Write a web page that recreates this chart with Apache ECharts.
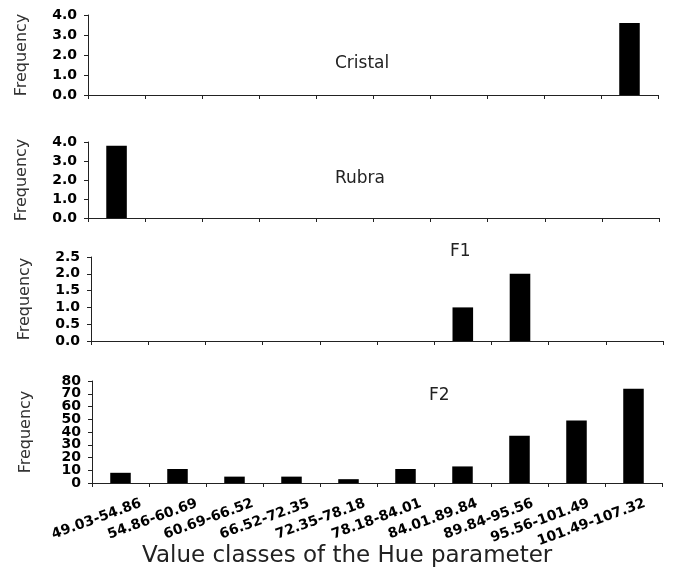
<!DOCTYPE html>
<html>
<head>
<meta charset="utf-8">
<script src="https://cdn.jsdelivr.net/npm/echarts@6/dist/echarts.min.js"></script>
<style>
html,body{margin:0;padding:0;background:#fff;}
#c{width:673px;height:576px;}
</style>
</head>
<body>
<div id="c"></div>
<script>
const categories = ['49.03-54.86','54.86-60.69','60.69-66.52','66.52-72.35','72.35-78.18','78.18-84.01','84.01.89.84','89.84-95.56','95.56-101.49','101.49-107.32'];
const cristal = [0,0,0,0,0,0,0,0,0,3.6];
const rubra   = [3.8,0,0,0,0,0,0,0,0,0];
const f1      = [0,0,0,0,0,0,1,2,0,0];
const f2      = [8,11,5,5,3,11,13,37,49,74];
const panelNames = ['Cristal','Rubra','F1','F2'];
const yMax = [4,4,2.5,80];
const yInterval = [1,1,0.5,10];
const f2TicksEven = [0,20,40,60,80];
const f2TicksOdd = [10,30,50,70];
const xTitle = 'Value classes of the Hue parameter';
const yName = 'Frequency';

const FONT = 'DejaVu Sans';
const grids = [
  {left:88, width:570, top:15, height:80},
  {left:88, width:571, top:142, height:76},
  {left:91, width:572, top:257, height:84},
  {left:92, width:570, top:381, height:102},
  {left:113, width:570, top:381, height:102}
];
const seriesData = [cristal, rubra, f1, f2];
const titlePos = [[330,50],[330,165],[445,238],[424,382]];
const labelStyle = {fontFamily:FONT, fontWeight:'bold', fontSize:14, color:'#000', margin:11,
  showMinLabel:true, showMaxLabel:true, hideOverlap:false};

const xAxes = [], yAxes = [], series = [];
for (let i=0;i<4;i++){
  xAxes.push({
    type:'category', gridIndex:i, data:categories,
    axisLine:{show:true, lineStyle:{color:'#222', width:1}},
    axisTick:{show:true, interval:0, length:4, lineStyle:{color:'#222'}},
    axisLabel:{show:false, interval:0}
  });
  const lab = Object.assign({}, labelStyle, {
    formatter: (v)=> i<3 ? Number(v).toFixed(1) : String(v)
  });
  if (i===3) lab.customValues = f2TicksEven;
  yAxes.push({
    type:'value', gridIndex:i, position:'left', offset:0,
    min:0, max:yMax[i], interval:yInterval[i],
    name:yName, nameLocation:'middle', nameGap:58,
    nameTextStyle:{fontFamily:FONT, fontSize:16, color:'#333'},
    splitLine:{show:false},
    axisLine:{show:true, lineStyle:{color:'#222', width:1}},
    axisTick:{show:true, length:4, lineStyle:{color:'#222'}},
    axisLabel:lab
  });
  series.push({
    type:'bar', xAxisIndex:i, yAxisIndex:i, data:seriesData[i],
    barWidth:'36%', itemStyle:{color:'#000'}, silent:true
  });
}
xAxes.push({
  type:'category', gridIndex:4, data:categories,
  axisLine:{show:false}, axisTick:{show:false},
  axisLabel:{interval:0, rotate:20, margin:20, fontFamily:FONT, fontWeight:'bold', fontSize:14, color:'#000'}
});
yAxes.push({type:'value', gridIndex:4, show:false, min:0, max:1});
// second label-only axis for F2 odd tick labels
yAxes.push({
  type:'value', gridIndex:3, position:'left', offset:0,
  min:0, max:yMax[3], interval:yInterval[3],
  splitLine:{show:false}, axisLine:{show:false}, axisTick:{show:false},
  axisLabel:Object.assign({}, labelStyle, {customValues:f2TicksOdd, formatter:(v)=>String(v)})
});

const titles = panelNames.map((t,i)=>({
  text:t, left:titlePos[i][0], top:titlePos[i][1],
  textStyle:{fontFamily:FONT, fontSize:17, fontWeight:'normal', color:'#222'}
}));
titles.push({text:xTitle, left:137, top:540,
  textStyle:{fontFamily:FONT, fontSize:23, fontWeight:'normal', color:'#222'}});

const chart = echarts.init(document.getElementById('c'), null, {renderer:'canvas'});
chart.setOption({
  animation:false,
  backgroundColor:'#fff',
  title:titles,
  grid:grids,
  xAxis:xAxes,
  yAxis:yAxes,
  series:series
});
</script>
</body>
</html>
